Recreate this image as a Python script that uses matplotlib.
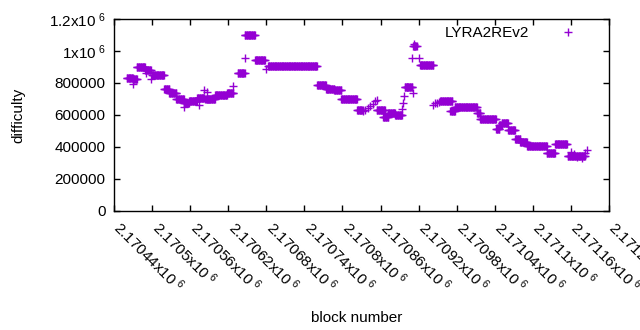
import numpy as np
import matplotlib
matplotlib.use("Agg")
import matplotlib.pyplot as plt
import matplotlib.transforms as mtransforms
from matplotlib.ticker import FixedLocator

plt.rcParams['font.family'] = ['Liberation Sans', 'DejaVu Sans']
plt.rcParams['mathtext.default'] = 'regular'

# plateaus of constant difficulty: first block, last block, difficulty
seg_start = [2170460, 2170470, 2170476, 2170489, 2170500, 2170519, 2170527, 2170538,
             2170550, 2170558, 2170571, 2170584, 2170588, 2170599, 2170618, 2170635,
             2170646, 2170662, 2170683, 2170760, 2170774, 2170787, 2170798, 2170823,
             2170854, 2170864, 2170872, 2170883, 2170898, 2170911, 2170922, 2170954,
             2170970, 2170977, 2171012, 2171017, 2171042, 2171047, 2171051, 2171061,
             2171072, 2171080, 2171091, 2171122, 2171135, 2171155]
seg_end = [2170470, 2170476, 2170489, 2170498, 2170519, 2170527, 2170538, 2170550,
           2170558, 2170571, 2170582, 2170588, 2170599, 2170618, 2170628, 2170646,
           2170662, 2170678, 2170760, 2170774, 2170787, 2170798, 2170823, 2170832,
           2170867, 2170872, 2170883, 2170894, 2170910, 2170917, 2170943, 2170973,
           2170977, 2171012, 2171017, 2171042, 2171047, 2171051, 2171061, 2171072,
           2171080, 2171091, 2171122, 2171135, 2171154, 2171182]
seg_value = [834000, 825000, 897000, 881000, 853000, 760000, 737000, 697000,
             678000, 690000, 706000, 700000, 700000, 722000, 740000, 862000,
             1100000, 944000, 906000, 787000, 762000, 756000, 703000, 634000,
             631000, 587000, 612000, 600000, 772000, 1030000, 915000, 686000,
             622000, 653000, 612000, 578000, 515000, 535000, 550000, 505000,
             450000, 430000, 407000, 363000, 420000, 345000]

# individual blocks off the plateaus
pt_block = [2170470, 2170490, 2170498, 2170551, 2170574, 2170582, 2170586, 2170628,
            2170646, 2170680, 2170832, 2170836, 2170840, 2170844, 2170848, 2170852,
            2170855, 2170894, 2170895, 2170897, 2170902, 2170911, 2170912, 2170910,
            2170921, 2170943, 2170946, 2170949, 2170952, 2171160, 2171165, 2171170,
            2171178, 2171182, 2171185]
pt_value = [794000, 862000, 825000, 650000, 662000, 756000, 745000, 780000,
            956000, 887000, 625000, 630000, 645000, 655000, 670000, 685000,
            695000, 637000, 675000, 720000, 775000, 738000, 1044000, 956000,
            956000, 665000, 672000, 678000, 683000, 370000, 355000, 340000,
            330000, 365000, 380000]

xtick_values = [2170440 + 60 * i for i in range(14)]
xtick_labels = ['2.17044x10$^{\\ 6}$', '2.1705x10$^{\\ 6}$', '2.17056x10$^{\\ 6}$', '2.17062x10$^{\\ 6}$',
                '2.17068x10$^{\\ 6}$', '2.17074x10$^{\\ 6}$', '2.1708x10$^{\\ 6}$', '2.17086x10$^{\\ 6}$',
                '2.17092x10$^{\\ 6}$', '2.17098x10$^{\\ 6}$', '2.17104x10$^{\\ 6}$', '2.1711x10$^{\\ 6}$',
                '2.17116x10$^{\\ 6}$', '2.17122x10$^{\\ 6}$']
ytick_values = [0, 200000, 400000, 600000, 800000, 1000000, 1200000]
ytick_labels = ['0', '200000', '400000', '600000', '800000', '1x10$^{\\ 6}$', '1.2x10$^{\\ 6}$']

xs, ys = [], []
for s, e, v in zip(seg_start, seg_end, seg_value):
    b = np.arange(s, e + 1)
    xs.append(b)
    ys.append(np.full(len(b), v))
xs.append(np.array(pt_block))
ys.append(np.array(pt_value))
x = np.concatenate(xs)
y = np.concatenate(ys)

fig = plt.figure(figsize=(6.4, 3.3), dpi=100)
ax = fig.add_axes([114/640, 1 - 211/330, (609-114)/640, (211-19)/330])
color = '#9400d3'
ax.plot(x, y, linestyle='none', marker='+', markersize=5.2, markeredgewidth=1.0,
        color=color, label='LYRA2REv2')
ax.set_xlim(2170440, 2171220)
ax.set_ylim(0, 1200000)
ax.xaxis.set_major_locator(FixedLocator(xtick_values))
ax.yaxis.set_major_locator(FixedLocator(ytick_values))
ax.set_xticklabels(xtick_labels, rotation=-45, ha='left', va='center', rotation_mode='anchor', fontsize=11)
ax.set_yticklabels(ytick_labels, fontsize=11)
ax.tick_params(direction='in', top=True, right=True, length=4, width=1, pad=6)
ax.tick_params(axis='x', pad=10)
offset = mtransforms.ScaledTranslation(3/100, 0, fig.dpi_scale_trans)
for lbl in ax.get_xticklabels():
    lbl.set_transform(lbl.get_transform() + offset)
for sp in ax.spines.values():
    sp.set_linewidth(1)
ax.set_xlabel('block number', fontsize=11)
ax.set_ylabel('difficulty', fontsize=11)
ax.xaxis.set_label_coords(0.49, -0.52)
ax.yaxis.set_label_coords(-0.18, 0.5)
leg = ax.legend(loc='upper right', bbox_to_anchor=(1 - 17/495, 1.01), frameon=False,
                fontsize=11, markerfirst=False, handlelength=2, borderaxespad=0.2,
                handletextpad=1.5)
fig.savefig('out.png', dpi=100)
